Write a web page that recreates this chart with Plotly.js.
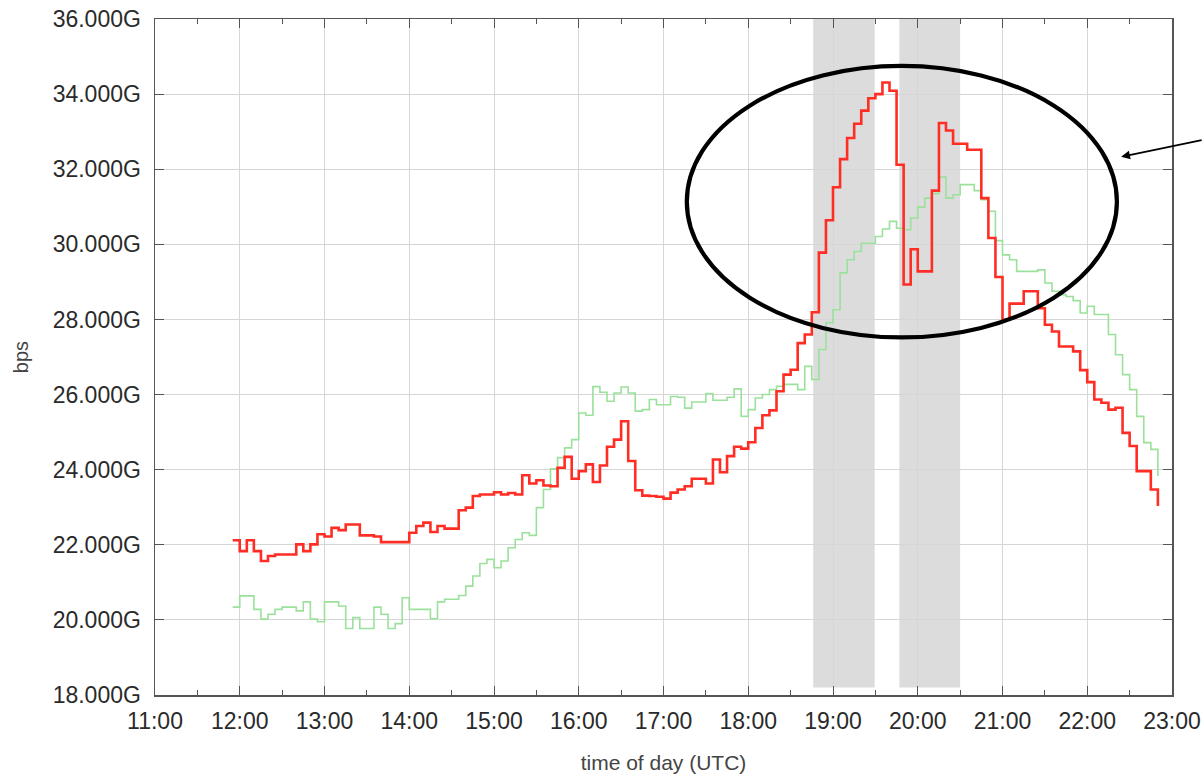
<!DOCTYPE html>
<html>
<head>
<meta charset="utf-8">
<script src="https://cdn.plot.ly/plotly-3.0.1.min.js"></script>
<style>html,body{margin:0;padding:0;background:#fff;}#chart{width:1204px;height:779px;}</style>
</head>
<body>
<div id="chart"></div>
<script>
// 5-minute sample times (time of day, UTC)
const times = [
"11:55",
"12:00","12:05","12:10","12:15","12:20","12:25","12:30","12:35","12:40","12:45","12:50","12:55",
"13:00","13:05","13:10","13:15","13:20","13:25","13:30","13:35","13:40","13:45","13:50","13:55",
"14:00","14:05","14:10","14:15","14:20","14:25","14:30","14:35","14:40","14:45","14:50","14:55",
"15:00","15:05","15:10","15:15","15:20","15:25","15:30","15:35","15:40","15:45","15:50","15:55",
"16:00","16:05","16:10","16:15","16:20","16:25","16:30","16:35","16:40","16:45","16:50","16:55",
"17:00","17:05","17:10","17:15","17:20","17:25","17:30","17:35","17:40","17:45","17:50","17:55",
"18:00","18:05","18:10","18:15","18:20","18:25","18:30","18:35","18:40","18:45","18:50","18:55",
"19:00","19:05","19:10","19:15","19:20","19:25","19:30","19:35","19:40","19:45","19:50","19:55",
"20:00","20:05","20:10","20:15","20:20","20:25","20:30","20:35","20:40","20:45","20:50","20:55",
"21:00","21:05","21:10","21:15","21:20","21:25","21:30","21:35","21:40","21:45","21:50","21:55",
"22:00","22:05","22:10","22:15","22:20","22:25","22:30","22:35","22:40","22:45","22:50"
];

// Traffic on the event day (Gbps)
const redSeries = [
22.12,
21.83,22.12,21.83,21.57,21.70,21.74,21.74,21.74,22.01,21.83,22.01,22.28,
22.22,22.45,22.39,22.54,22.54,22.25,22.25,22.22,22.07,22.07,22.07,22.07,
22.32,22.50,22.59,22.34,22.50,22.43,22.43,22.92,22.99,23.30,23.34,23.34,
23.40,23.34,23.38,23.34,23.85,23.63,23.72,23.58,23.56,24.05,24.34,23.76,
23.96,24.14,23.67,24.11,24.61,24.80,25.29,24.23,23.45,23.31,23.30,23.28,
23.23,23.39,23.47,23.56,23.76,23.76,23.63,24.27,23.93,24.36,24.61,24.56,
24.73,25.11,25.45,25.58,26.09,26.53,26.66,27.37,27.60,28.19,29.78,30.64,
31.52,32.27,32.83,33.21,33.56,33.89,34.00,34.31,34.09,32.12,28.93,29.87,
29.28,29.28,31.43,33.23,33.03,32.68,32.68,32.52,32.52,31.23,30.17,29.13,
27.99,28.42,28.42,28.75,28.75,28.30,27.86,27.68,27.28,27.28,27.15,26.65,
26.33,25.87,25.78,25.60,25.65,24.98,24.63,23.96,23.96,23.47,23.03
];

// Traffic on the reference day (Gbps)
const greenSeries = [
20.34,
20.64,20.64,20.28,20.02,20.15,20.28,20.34,20.34,20.24,20.48,20.02,19.95,
20.48,20.48,20.37,19.77,20.06,19.77,19.77,20.34,20.15,19.77,19.90,20.59,
20.28,20.28,20.28,20.03,20.48,20.55,20.55,20.65,20.90,21.17,21.50,21.61,
21.39,21.57,21.92,22.14,22.32,22.25,22.99,23.47,24.02,24.32,24.58,24.80,
25.51,25.45,26.21,26.06,25.82,26.04,26.20,26.04,25.56,25.60,25.87,25.73,
25.73,25.95,25.93,25.64,25.80,25.80,26.03,25.85,25.85,25.93,26.15,25.42,
25.60,25.91,26.00,26.13,26.22,26.27,26.27,26.13,26.75,26.40,27.20,27.91,
28.26,29.24,29.59,29.81,30.03,30.03,30.21,30.41,30.61,30.43,30.39,30.70,
30.99,31.23,31.35,31.79,31.23,31.32,31.59,31.59,31.43,31.19,30.88,30.10,
29.72,29.59,29.28,29.28,29.28,29.32,28.97,28.75,28.66,28.61,28.50,28.17,
28.35,28.13,28.13,27.60,27.06,26.53,26.13,25.42,24.72,24.54,23.83
];

// Shaded intervals
const shadedIntervals = [["18:46","19:29:30"],["19:47","20:30"]];

const DAY = "2024-01-01 ";
const xs = times.map(t => DAY + t);

const font = "Liberation Sans, Arial, Helvetica, sans-serif";

const traces = [
  {x: xs, y: greenSeries, type: "scatter", mode: "lines", line: {shape: "hv", color: "rgb(155,225,155)", width: 1.6}, hoverinfo: "skip", showlegend: false},
  {x: xs, y: redSeries, type: "scatter", mode: "lines", line: {shape: "hv", color: "rgb(255,45,35)", width: 2.6}, hoverinfo: "skip", showlegend: false}
];

const shapes = shadedIntervals.map(iv => ({
  type: "rect", xref: "x", yref: "y",
  x0: DAY + iv[0], x1: DAY + iv[1], y0: 18.2, y1: 36,
  fillcolor: "#dcdcdc", line: {width: 0}, layer: "below"
}));
shapes.push({
  type: "circle", xref: "x", yref: "y",
  x0: DAY + "17:16:30", x1: DAY + "22:21", y0: 27.52, y1: 34.75,
  line: {color: "#000", width: 4.2}, layer: "above"
});

const axisCommon = {
  showgrid: true, gridcolor: "#d6d6d6", gridwidth: 1,
  showline: true, linecolor: "#555", linewidth: 1.5, mirror: "ticks",
  ticks: "inside", ticklen: 9, tickcolor: "#555", tickwidth: 1,
  zeroline: false,
  tickfont: {family: font, size: 23, color: "#2a2a2a"}
};

const layout = {
  width: 1204, height: 779,
  margin: {l: 155, r: 32, t: 19, b: 84},
  paper_bgcolor: "#fff", plot_bgcolor: "#fff",
  showlegend: false,
  xaxis: Object.assign({}, axisCommon, {
    type: "date",
    range: [DAY + "11:00", DAY + "23:00"],
    tick0: DAY + "11:00", dtick: 3600000, tickformat: "%H:%M",
    ticklabelstandoff: 5,
    minor: {dtick: 1800000, ticks: "inside", ticklen: 5, tickcolor: "#555", showgrid: false},
    title: {text: "time of day (UTC)", font: {family: font, size: 21, color: "#444"}, standoff: 22}
  }),
  yaxis: Object.assign({}, axisCommon, {
    range: [18, 36], dtick: 2, tick0: 18,
    tickformat: ".3f", ticksuffix: "G",
    ticklabelstandoff: 8,
    title: {text: "bps", font: {family: font, size: 20, color: "#444"}, standoff: 18}
  }),
  shapes: shapes,
  annotations: [{
    x: DAY + "22:24", y: 32.33, xref: "x", yref: "y",
    ax: 82, ay: -17, axref: "pixel", ayref: "pixel",
    text: "", showarrow: true, arrowhead: 2, arrowsize: 1.1, arrowwidth: 1.6, arrowcolor: "#000"
  }]
};

Plotly.newPlot("chart", traces, layout, {staticPlot: true, displayModeBar: false});
</script>
</body>
</html>
